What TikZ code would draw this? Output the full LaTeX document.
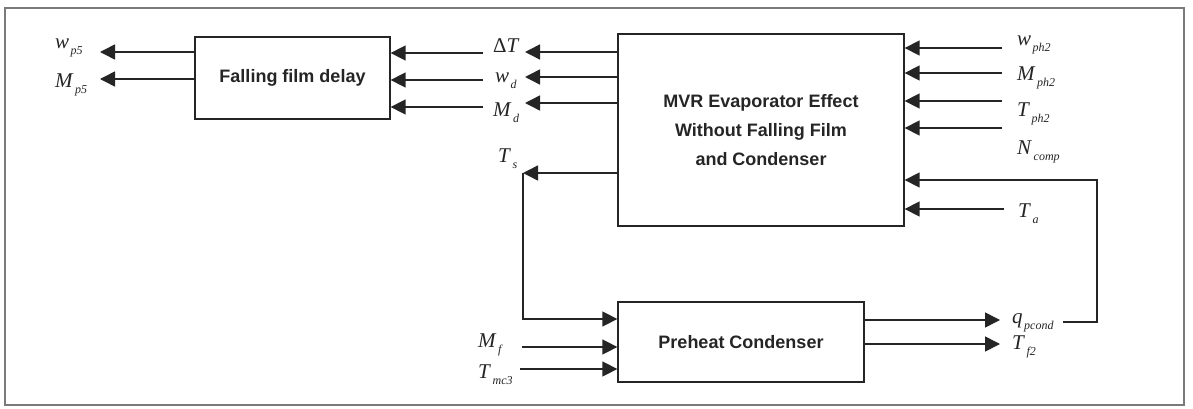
\documentclass[tikz,border=0pt]{standalone}
\usepackage{fontspec}
\setmainfont{Liberation Serif}
\newfontfamily\boxfont{Liberation Sans}
\usetikzlibrary{arrows.meta}
\definecolor{ink}{HTML}{252525}
\definecolor{framec}{HTML}{7A7A7A}
\newcommand\lbl[2]{{\fontsize{21}{21}\selectfont\textit{#1}}\kern1.5pt\raisebox{-6pt}{\fontsize{12}{12}\selectfont\textit{#2}}}
\tikzset{
  blk/.style={draw=ink, line width=1.3pt, fill=white, inner sep=0pt, text=ink,
    font=\boxfont\bfseries\fontsize{18}{29}\selectfont, align=center},
  arr/.style={draw=ink, line width=1.5pt, -{Triangle[length=15pt,width=15pt]}},
  lab/.style={anchor=base west, inner sep=0pt, text=ink}
}
\begin{document}
\begin{tikzpicture}[x=1pt,y=-1pt]
\useasboundingbox (0,0) rectangle (1193,409);
\fill[white] (0,0) rectangle (1193,409);
\draw[framec, line width=1.2pt] (5,8) rectangle (1184,405);

% blocks
\node[blk, minimum width=195pt, minimum height=82pt] (ffd) at (292.5,78) {Falling film delay};
\node[blk, minimum width=286pt, minimum height=192pt] (mvr) at (761,130) {MVR Evaporator Effect\\Without Falling Film\\and Condenser};
\node[blk, minimum width=246pt, minimum height=80pt] (pc) at (741,342) {Preheat Condenser};

% labels
\node[lab] (wp5) at (55,49) {\lbl{w}{p5}};
\node[lab] (Mp5) at (55,88) {\lbl{M}{p5}};
\node[lab] (dT) at (493,53) {{\fontsize{21}{21}\selectfont Δ\textit{T}}};
\node[lab] (wd) at (495,83) {\lbl{w}{d}};
\node[lab] (Md) at (493,117) {\lbl{M}{d}};
\node[lab] (Ts) at (498,162) {\lbl{T}{s}};
\node[lab] (wph) at (1017,46) {\lbl{w}{ph2}};
\node[lab] (Mph) at (1017,81) {\lbl{M}{ph2}};
\node[lab] (Tph) at (1017,117) {\lbl{T}{ph2}};
\node[lab] (Nc) at (1017,154) {\lbl{N}{comp}};
\node[lab] (Ta) at (1018,217) {\lbl{T}{a}};
\node[lab] (Mf) at (478,347) {\lbl{M}{f}};
\node[lab] (Tmc) at (478,378) {\lbl{T}{mc3}};
\node[lab] (qp) at (1012,323) {\lbl{q}{pcond}};
\node[lab] (Tf) at (1012,349) {\lbl{T}{f2}};

% free ends
\coordinate (a1) at (100,52);
\coordinate (a2) at (100,79);
\coordinate (b1) at (483,53);
\coordinate (b2) at (483,80);
\coordinate (b3) at (483,107);
\coordinate (c1) at (525,52);
\coordinate (c2) at (525,77);
\coordinate (c3) at (525,103);
\coordinate (d1) at (1002,48);
\coordinate (d2) at (1002,73);
\coordinate (d3) at (1002,101);
\coordinate (d4) at (1002,128);
\coordinate (fb0) at (1063,322);
\coordinate (fb1) at (1097,322);
\coordinate (fb2) at (1097,180);
\coordinate (ta) at (1004,209);
\coordinate (ts) at (523,173);
\coordinate (ts2) at (523,319);
\coordinate (mf) at (522,347);
\coordinate (tm) at (520,369);
\coordinate (o1) at (1000,320);
\coordinate (o2) at (1000,344);

% falling film delay outputs
\draw[arr] (ffd.west |- a1) -- (a1);
\draw[arr] (ffd.west |- a2) -- (a2);
% into falling film delay
\draw[arr] (b1) -- (ffd.east |- b1);
\draw[arr] (b2) -- (ffd.east |- b2);
\draw[arr] (b3) -- (ffd.east |- b3);
% MVR outputs
\draw[arr] (mvr.west |- c1) -- (c1);
\draw[arr] (mvr.west |- c2) -- (c2);
\draw[arr] (mvr.west |- c3) -- (c3);
\draw[arr] (mvr.west |- ts) -- (ts);
% MVR inputs
\draw[arr] (d1) -- (mvr.east |- d1);
\draw[arr] (d2) -- (mvr.east |- d2);
\draw[arr] (d3) -- (mvr.east |- d3);
\draw[arr] (d4) -- (mvr.east |- d4);
\draw[arr] (ta) -- (mvr.east |- ta);
\draw[arr] (fb0) -- (fb1) -- (fb2) -- (mvr.east |- fb2);
% T_s loop to preheat condenser
\draw[arr] (ts) -- (ts2) -- (pc.west |- ts2);
\draw[arr] (mf) -- (pc.west |- mf);
\draw[arr] (tm) -- (pc.west |- tm);
% preheat outputs
\draw[arr] (pc.east |- o1) -- (o1);
\draw[arr] (pc.east |- o2) -- (o2);
\end{tikzpicture}
\end{document}
